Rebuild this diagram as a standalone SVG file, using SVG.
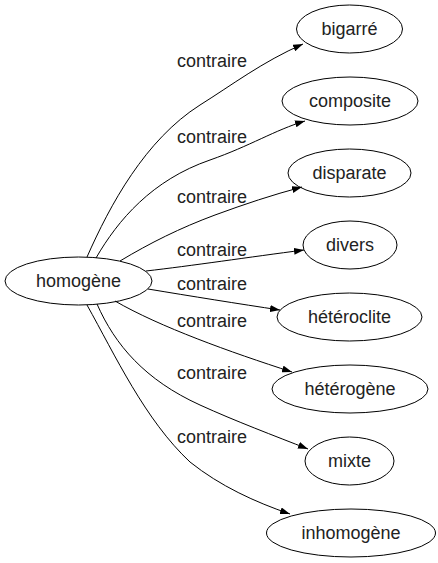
<svg xmlns="http://www.w3.org/2000/svg" width="438" height="563" viewBox="0 0 438 563">
<defs>
<style>
.node ellipse{fill:none;stroke:#000;stroke-width:1}
.node text,.lbl{font-family:"Liberation Sans",Arial,sans-serif;font-size:18px;fill:#222;text-anchor:middle}
.edge{fill:none;stroke:#000;stroke-width:1;marker-end:url(#arr)}
</style>
<marker id="arr" viewBox="0 0 10 7" refX="10" refY="3.5" markerWidth="10" markerHeight="7" markerUnits="userSpaceOnUse" orient="auto">
<path d="M0,0 L10,3.5 L0,7 z" fill="#000"/>
</marker>
</defs>
<rect width="438" height="563" fill="#fff"/>
<g id="connectors">
<path class="edge" d="M87,257 C110,205 145,140 200,105 C232,85 262,62 303,44"/>
<path class="edge" d="M96,258 C118,220 152,180 210,160 C250,146 275,130 305,121"/>
<path class="edge" d="M120,261 C150,243 180,228 215,215 C245,204 272,195 302,187"/>
<path class="edge" d="M146,271 C190,266 250,257 304,250"/>
<path class="edge" d="M148,289 C190,296 240,304 280,310"/>
<path class="edge" d="M115,301 C160,327 230,352 292,372"/>
<path class="edge" d="M97,304 C115,345 145,380 200,405 C235,421 275,436 308,449"/>
<path class="edge" d="M87,305 C115,355 145,420 190,462 C220,486 255,502 290,514"/>
<text class="lbl" x="212" y="67">contraire</text>
<text class="lbl" x="212" y="143">contraire</text>
<text class="lbl" x="212" y="203">contraire</text>
<text class="lbl" x="212" y="256">contraire</text>
<text class="lbl" x="212" y="290">contraire</text>
<text class="lbl" x="212" y="327">contraire</text>
<text class="lbl" x="212" y="379">contraire</text>
<text class="lbl" x="212" y="443">contraire</text>
</g>
<g id="n-homogene" class="node"><ellipse cx="78.5" cy="281" rx="73.5" ry="24"/><text x="78.5" y="287">homogène</text></g>
<g id="n-bigarre" class="node"><ellipse cx="349.5" cy="29" rx="53" ry="24"/><text x="349.5" y="35">bigarré</text></g>
<g id="n-composite" class="node"><ellipse cx="350" cy="101" rx="68" ry="24"/><text x="350" y="107">composite</text></g>
<g id="n-disparate" class="node"><ellipse cx="349.5" cy="173" rx="61.5" ry="24"/><text x="349.5" y="179">disparate</text></g>
<g id="n-divers" class="node"><ellipse cx="350" cy="245" rx="47" ry="24"/><text x="350" y="251">divers</text></g>
<g id="n-heteroclite" class="node"><ellipse cx="349.5" cy="317" rx="72.5" ry="24"/><text x="349.5" y="323">hétéroclite</text></g>
<g id="n-heterogene" class="node"><ellipse cx="350" cy="389" rx="78" ry="24"/><text x="350" y="395">hétérogène</text></g>
<g id="n-mixte" class="node"><ellipse cx="349.5" cy="461" rx="44.5" ry="24"/><text x="349.5" y="467">mixte</text></g>
<g id="n-inhomogene" class="node"><ellipse cx="351" cy="533" rx="84.5" ry="24"/><text x="351" y="539">inhomogène</text></g>
</svg>
